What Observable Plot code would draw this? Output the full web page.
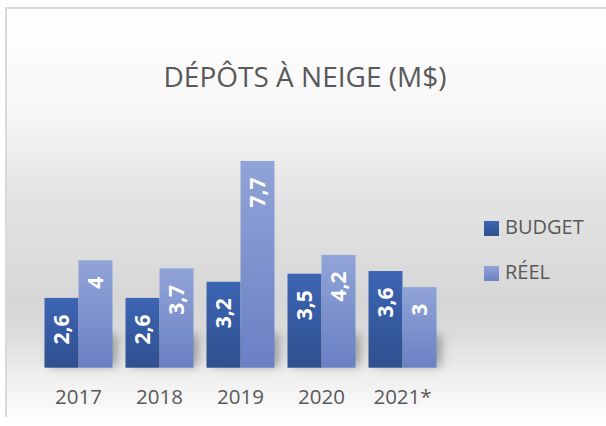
<!DOCTYPE html>
<html>
<head>
<meta charset="utf-8">
<script src="https://cdn.jsdelivr.net/npm/d3@7"></script>
<script src="https://cdn.jsdelivr.net/npm/@observablehq/plot@0.6"></script>
<style>
  html, body { margin: 0; padding: 0; background: #ffffff; }
  #wrap { position: relative; width: 606px; height: 426px; overflow: hidden; background: #ffffff; font-family: "Open Sans", sans-serif; }
  #frame { position: absolute; left: 5px; top: 7px; width: 620px; height: 408px;
    border-top: 2px solid #d9d9d9; border-left: 2px solid #d9d9d9;
    background: linear-gradient(to bottom, #ffffff 0%, #f7f7f7 25%, #e4e4e4 45%, #d6d6d6 72%, #dcdcdc 80%, #efefef 90%, #fcfcfc 100%); }
  #chart { position: absolute; left: 0; top: 0; }
  #title { position: absolute; left: 0; width: 610px; top: 62px; text-align: center; font-size: 28px; line-height: 28px; color: #595959; white-space: nowrap; }
  .leg { position: absolute; left: 484px; font-size: 20px; line-height: 20px; color: #595959; white-space: nowrap; }
  .leg .sw { position: absolute; left: 0; width: 15px; height: 15px; }
  .leg .lab { position: absolute; left: 21px; top: 0; }
</style>
</head>
<body>
<div id="wrap">
  <div id="frame"></div>
  <div id="chart"></div>
  <div id="title"></div>
  <div id="legend"></div>
</div>
<script>
const title = "DÉPÔTS À NEIGE (M$)";
const years = ["2017", "2018", "2019", "2020", "2021*"];
const series = ["BUDGET", "RÉEL"];
const budget = [2.6, 2.6, 3.2, 3.5, 3.6];
const reel = [4, 3.7, 7.7, 4.2, 3];

const gradients = {
  "BUDGET": ["#3d65b3", "#2f508f"],
  "RÉEL": ["#91a4d8", "#6a80c4"]
};
const gradIds = {"BUDGET": "gBudget", "RÉEL": "gReel"};

const data = years.flatMap((y, i) => [
  {year: y, series: series[0], value: budget[i]},
  {year: y, series: series[1], value: reel[i]}
]);
const fmt = v => String(v).replace(".", ",");

const chart = Plot.plot({
  width: 606,
  height: 426,
  marginLeft: 36.5,
  marginRight: 162.5,
  marginTop: 152.9,
  marginBottom: 58.3,
  style: {background: "transparent", fontFamily: "Open Sans, sans-serif", fontSize: "20.5px", color: "#595959", overflow: "visible"},
  fx: {domain: years, paddingInner: 0.16, paddingOuter: 0.08, label: null, tickSize: 0, tickPadding: 21, axis: "bottom"},
  x: {domain: series, padding: 0, axis: null},
  y: {domain: [0, 8], axis: null},
  color: {domain: series, range: series.map(s => `url(#${gradIds[s]})`)},
  marks: [
    Plot.barY(data, {fx: "year", x: "series", y1: 0, y2: d => Math.min(d.value, 1.2), fill: "#000000",
      fillOpacity: 0.3, dx: 5, dy: -1, ariaDescription: "shadow"}),
    Plot.barY(data, {fx: "year", x: "series", y: "value", fill: "series"}),
    Plot.text(data, {fx: "year", x: "series", y: "value", text: d => fmt(d.value), rotate: -90,
      textAnchor: "end", lineAnchor: "middle", dy: 16, fill: "white", fontWeight: "bold", fontSize: 21})
  ]
});

const svg = d3.select(chart);
const defs = svg.insert("defs", ":first-child");
series.forEach(s => {
  const g = defs.append("linearGradient").attr("id", gradIds[s]).attr("x1", 0).attr("y1", 0).attr("x2", 0).attr("y2", 1);
  g.append("stop").attr("offset", "0%").attr("stop-color", gradients[s][0]);
  g.append("stop").attr("offset", "100%").attr("stop-color", gradients[s][1]);
});
const blur = defs.append("filter").attr("id", "shadowBlur").attr("x", "-50%").attr("y", "-50%").attr("width", "200%").attr("height", "200%");
blur.append("feGaussianBlur").attr("stdDeviation", 5);
svg.selectAll('[aria-description="shadow"]').attr("filter", "url(#shadowBlur)");
document.getElementById("chart").appendChild(chart);

document.getElementById("title").textContent = title;
const legend = document.getElementById("legend");
series.forEach((s, i) => {
  const item = document.createElement("div");
  item.className = "leg";
  item.style.top = (217 + i * 45) + "px";
  const sw = document.createElement("div");
  sw.className = "sw";
  sw.style.top = "4px";
  sw.style.background = `linear-gradient(to bottom, ${gradients[s][0]}, ${gradients[s][1]})`;
  const lab = document.createElement("span");
  lab.className = "lab";
  lab.textContent = s;
  item.appendChild(sw);
  item.appendChild(lab);
  legend.appendChild(item);
});
</script>
</body>
</html>
